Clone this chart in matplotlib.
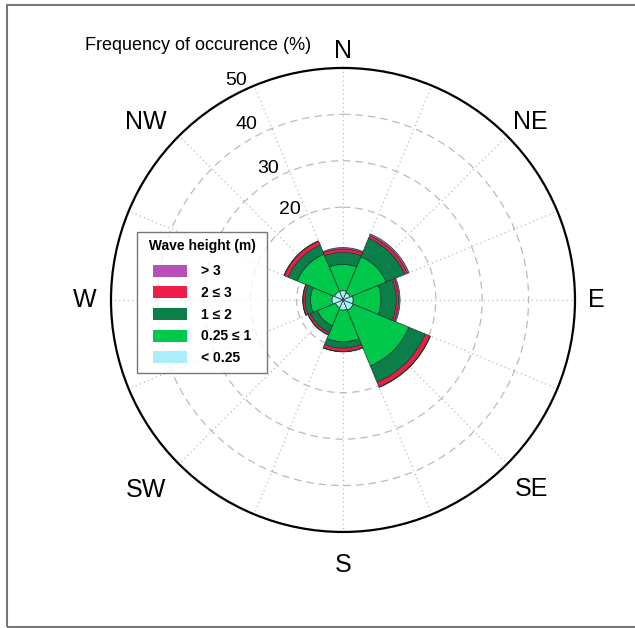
import numpy as np
import matplotlib.pyplot as plt
from matplotlib.patches import Rectangle

plt.rcParams['font.family'] = ['Liberation Sans', 'DejaVu Sans']

# Direcciones y frecuencias (%) por clase de altura de ola
direcciones = ['N', 'NE', 'E', 'SE', 'S', 'SW', 'W', 'NW']
clases = ['< 0.25', '0.25 ≤ 1', '1 ≤ 2', '2 ≤ 3', '> 3']
colores = ['#a9eef8', '#00c84b', '#0a7f49', '#ee1d48', '#b94fb9']

h_menor_025 = [2.0, 1.7, 2.2, 2.4, 2.2, 1.8, 2.4, 2.0]
h_025_1 = [5.7, 8.4, 6.0, 13.0, 6.8, 4.2, 4.6, 8.7]
h_1_2 = [2.6, 4.3, 3.3, 3.8, 1.4, 1.6, 1.2, 2.1]
h_2_3 = [0.7, 0.6, 0.5, 1.1, 0.7, 0.5, 0.4, 0.9]
h_mayor_3 = [0.3, 0.4, 0.3, 0.1, 0.1, 0.1, 0.1, 0.1]
series = [h_menor_025, h_025_1, h_1_2, h_2_3, h_mayor_3]

anillos = [10, 20, 30, 40]
etiquetas_r = [20, 30, 40, 50]
r_max = 50

# posiciones de las etiquetas (solo maquetación)
ang_dir = [0, 46.4, 90, 135, 180, 226.0, 270, 312.1]
r_dir = [53.7, 55.6, 54.7, 57.6, 57.1, 59.0, 55.6, 57.2]
ang_rlab = [30.5, 29.6, 28.7, 26.0]
r_rlab = [22.6, 32.5, 43.2, 52.6]

fig = plt.figure(figsize=(6.35, 6.28), dpi=100)
ax = fig.add_axes([0.1748, 0.1529, 0.7307, 0.7389], projection='polar')
ax.set_theta_zero_location('N')
ax.set_theta_direction(-1)

angulos = np.deg2rad(np.arange(8) * 45)
ancho = 2 * np.pi / 8

# Barras apiladas
base = np.zeros(8)
barras = []
for valores, color, clase in zip(series, colores, clases):
    b = ax.bar(angulos, valores, width=ancho, bottom=base, color=color,
               edgecolor='#1f3b2c', linewidth=0.5, label=clase, zorder=3)
    barras.append(b)
    base = base + np.array(valores)

ax.set_ylim(0, r_max)
ax.set_yticks(anillos)
ax.set_yticklabels([])
ax.set_xticks(np.deg2rad(np.arange(16) * 22.5))
ax.set_xticklabels([])
ax.xaxis.grid(True, color='#bbbbbb', linestyle=(0, (1, 2.5)), linewidth=0.9)
ax.yaxis.grid(True, color='#bbbbbb', linestyle=(0, (6, 4)), linewidth=0.9)
ax.set_axisbelow(True)
ax.spines['polar'].set_color('black')
ax.spines['polar'].set_linewidth(1.6)

# Etiquetas de dirección
for a, nombre, r in zip(ang_dir, direcciones, r_dir):
    ax.text(np.deg2rad(a), r, nombre, fontsize=18, ha='center', va='center')

# Etiquetas radiales
for v, a, r in zip(etiquetas_r, ang_rlab, r_rlab):
    ax.text(np.deg2rad(-a), r, str(v), fontsize=14, ha='center', va='center')

fig.text(0.312, 0.927, 'Frequency of occurence (%)', fontsize=13, ha='center', va='center')

# Leyenda
handles = [b.patches[0] for b in barras][::-1]
leg = fig.legend(handles, clases[::-1], loc='upper left',
                 bbox_to_anchor=(0.216, 0.631), frameon=True, fancybox=False,
                 title=' Wave height (m) ', title_fontproperties={'weight': 'bold', 'size': 10},
                 prop={'weight': 'bold', 'size': 10}, handlelength=2.45, handleheight=0.95,
                 labelspacing=0.55, borderpad=0.55, handletextpad=1.0, borderaxespad=0)
leg.get_frame().set_edgecolor('#555555')
leg.get_frame().set_linewidth(1.0)
for h in leg.legend_handles:
    h.set_edgecolor('none')
leg._legend_box.sep = 8

# Marco de la figura
fig.patches.append(Rectangle((0.011, 0.0016), 1.2, 0.9904, transform=fig.transFigure,
                             fill=False, edgecolor='#777777', linewidth=1.5))

fig.savefig('out.png', dpi=100)
